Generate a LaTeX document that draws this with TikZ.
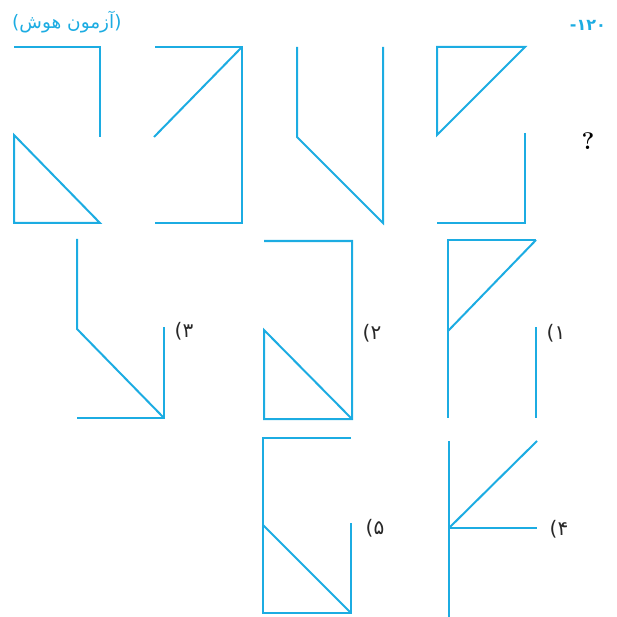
\documentclass[tikz,border=0pt]{standalone}
\usepackage{fontspec}
\usepackage{xcolor}
\TeXXeTstate=1
\newfontfamily\arabicfont[Script=Arabic]{DejaVu Sans}
\definecolor{QuizBlue}{RGB}{28,172,226}
\definecolor{LabelGray}{RGB}{40,40,40}
\tikzset{
  figline/.style={draw=QuizBlue,line width=2pt},
  optlabel/.style={text=LabelGray,font=\arabicfont\fontsize{20}{20}\selectfont,
    inner sep=0pt},
  headlabel/.style={text=QuizBlue,inner sep=0pt},
}

\begin{document}
\begin{tikzpicture}[x=1pt,y=-1pt]
  \useasboundingbox (0,0) rectangle (616,617);
  % heading
  \node[headlabel,font=\arabicfont\fontsize{18.5}{18.5}\selectfont,anchor=west] (source) at (12,22)
    {)\beginR آزمون هوش\endR(};
  \node[headlabel,font=\arabicfont\bfseries\fontsize{16}{16}\selectfont,anchor=east] (qnum) at (606,25)
    {۱۲۰-};
  % row of the sequence
  \draw[figline] (14,47) -- (100,47) -- (100,137);
  \draw[figline] (14,135) -- (14,223) -- (100,223) -- cycle;
  \draw[figline] (155,47) -- (242,47) -- (242,223) -- (155,223);
  \draw[figline] (242,47) -- (154,137);
  \draw[figline] (297,47) -- (297,137) -- (383,223) -- (383,47);
  \draw[figline] (437,47) -- (525,47) -- (437,135) -- cycle;
  \draw[figline] (525,133) -- (525,223) -- (437,223);
  \node[font=\bfseries\fontsize{24}{24}\selectfont,inner sep=0pt] (ask) at (588,141) {?};
  % options 3, 2, 1
  \draw[figline] (77,239) -- (77,329) -- (164,418);
  \draw[figline] (164,327) -- (164,418) -- (77,418);
  \node[optlabel] (opt3) at (184,331) {۳)};
  \draw[figline] (264,241) -- (352,241) -- (352,419) -- (264,419) -- (264,330) -- (352,419);
  \node[optlabel] (opt2) at (372,333) {۲)};
  \draw[figline] (536,240) -- (448,240) -- (448,418);
  \draw[figline] (536,240) -- (448,331);
  \draw[figline] (536,327) -- (536,418);
  \node[optlabel] (opt1) at (556,333) {۱)};
  % options 5, 4
  \draw[figline] (351,438) -- (263,438) -- (263,613) -- (351,613) -- (351,523);
  \draw[figline] (263,525) -- (351,613);
  \node[optlabel] (opt5) at (375,528) {۵)};
  \draw[figline] (449,441) -- (449,617);
  \draw[figline] (449,528) -- (537,441);
  \draw[figline] (449,528) -- (537,528);
  \node[optlabel] (opt4) at (559,529) {۴)};
\end{tikzpicture}
\end{document}
